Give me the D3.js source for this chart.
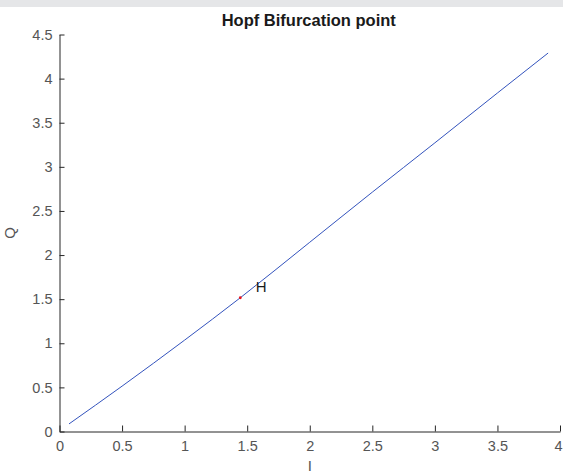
<!DOCTYPE html>
<html>
<head>
<meta charset="utf-8">
<script src="https://cdn.jsdelivr.net/npm/d3@7"></script>
<style>
  html, body { margin: 0; padding: 0; background: #fff; }
  svg { display: block; font-family: "Liberation Sans", Arial, Helvetica, sans-serif; }
</style>
</head>
<body>
<svg id="chart" width="563" height="475"></svg>
<script>
// Equilibrium branch: current I vs. charge Q
const branchI = [0.076, 0.5, 1.0, 1.445, 2.0, 2.5, 3.0, 3.5, 3.905];
const branchQ = [0.086, 0.514, 1.036, 1.516, 2.145, 2.713, 3.272, 3.837, 4.29];

// Hopf bifurcation point
const hopfI = [1.445];
const hopfQ = [1.516];
const hopfLabel = ["H"];

const xTicks = [0, 0.5, 1, 1.5, 2, 2.5, 3, 3.5, 4];
const yTicks = [0, 0.5, 1, 1.5, 2, 2.5, 3, 3.5, 4, 4.5];

const titleText = "Hopf Bifurcation point";
const xLabel = "I";
const yLabel = "Q";

const W = 563, H = 475;
const plotLeft = 59.5, plotRight = 560, plotTop = 34.5, plotBottom = 431.5;

const svg = d3.select("#chart");

// light figure band along the top edge
svg.append("rect").attr("x", 0).attr("y", 0).attr("width", W).attr("height", 7)
  .attr("fill", "#e5e6e8");

const x = d3.scaleLinear().domain([0, 4]).range([plotLeft, plotRight]);
const y = d3.scaleLinear().domain([0, 4.5]).range([plotBottom, plotTop]);

const axisColor = "#262626";
const tickColor = "#555555";

// x axis (ticks point inward)
const gx = svg.append("g").attr("transform", `translate(0,${plotBottom})`)
  .call(d3.axisBottom(x).tickValues(xTicks).tickSizeInner(-6).tickSizeOuter(0)
    .tickPadding(9).tickFormat(d3.format("~g")));
// y axis (ticks point inward)
const gy = svg.append("g").attr("transform", `translate(${plotLeft},0)`)
  .call(d3.axisLeft(y).tickValues(yTicks).tickSizeInner(-5).tickSizeOuter(0)
    .tickPadding(7).tickFormat(d3.format("~g")));

[gx, gy].forEach(g => {
  g.select(".domain").attr("stroke", axisColor).attr("stroke-width", 1);
  g.selectAll(".tick line").attr("stroke", axisColor).attr("stroke-width", 1);
  g.selectAll(".tick text").attr("fill", tickColor)
    .attr("font-size", null)
    .style("font-size", "14.5px")
    .style("font-family", "'Liberation Sans', Arial, sans-serif");
});
gx.selectAll(".tick text").attr("dy", "0.71em");
// the last x label sits flush against the right edge
gx.selectAll(".tick text").filter(d => d === 4).attr("text-anchor", "end").attr("dx", 2);

// branch curve
const pts = branchI.map((v, i) => [v, branchQ[i]]);
svg.append("path").datum(pts)
  .attr("fill", "none").attr("stroke", "#3353bd").attr("stroke-width", 1)
  .attr("d", d3.line().x(d => x(d[0])).y(d => y(d[1])).curve(d3.curveMonotoneX));

// Hopf marker and label
svg.selectAll("circle.hopf").data(hopfI).enter().append("circle")
  .attr("class", "hopf")
  .attr("cx", d => x(d)).attr("cy", (d, i) => y(hopfQ[i])).attr("r", 1.4)
  .attr("fill", "#e8141e");
svg.selectAll("text.hopf").data(hopfI).enter().append("text")
  .attr("class", "hopf")
  .attr("x", d => x(d) + 15.5).attr("y", (d, i) => y(hopfQ[i]) - 5.5)
  .attr("fill", "#1a1a1a").style("font-size", "15px")
  .text((d, i) => hopfLabel[i]);

// title and axis labels
svg.append("text").attr("x", (plotLeft + plotRight) / 2 - 1).attr("y", 26)
  .attr("text-anchor", "middle").attr("fill", "#1a1a1a")
  .style("font-size", "16.5px").style("font-weight", "bold").text(titleText);
svg.append("text").attr("x", x(2)).attr("y", 471)
  .attr("text-anchor", "middle").attr("fill", tickColor)
  .style("font-size", "15px").text(xLabel);
svg.append("text").attr("transform", `translate(15,${(plotTop + plotBottom) / 2}) rotate(-90)`)
  .attr("text-anchor", "middle").attr("fill", tickColor)
  .style("font-size", "15px").text(yLabel);
</script>
</body>
</html>
